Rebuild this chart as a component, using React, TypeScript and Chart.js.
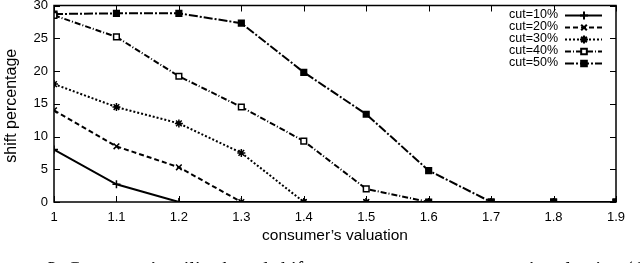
import React, { useEffect, useRef } from "react";
import { Chart, registerables } from "chart.js";
import { drawPoint } from "chart.js/helpers";

Chart.register(...registerables);

const valuations = [1.0, 1.1, 1.2, 1.3, 1.4, 1.5, 1.6, 1.7, 1.8, 1.9];
const xTickLabels = ["1", "1.1", "1.2", "1.3", "1.4", "1.5", "1.6", "1.7", "1.8", "1.9"];
const yTickValues = [0, 5, 10, 15, 20, 25, 30];
const seriesNames = ["cut=10%", "cut=20%", "cut=30%", "cut=40%", "cut=50%"];
const cut10 = [8, 2.7, 0, 0, 0, 0, 0, 0, 0, 0];
const cut20 = [14, 8.5, 5.3, 0, 0, 0, 0, 0, 0, 0];
const cut30 = [18, 14.5, 12, 7.5, 0, 0, 0, 0, 0, 0];
const cut40 = [28.5, 25.2, 19.2, 14.5, 9.3, 2, 0, 0, 0, 0];
const cut50 = [28.7, 28.8, 28.8, 27.3, 19.8, 13.4, 4.8, 0, 0, 0];
const xTitle = "consumer\u2019s valuation";
const yTitle = "shift percentage";
const caption = "3.   Consumer\u2019s utility-based shift percentage w.r.t. consumer\u2019s valuation (default";

const seriesValues = [cut10, cut20, cut30, cut40, cut50];
const styles = [
  { dash: [] as number[], point: "cross", fill: "#000", radius: 4 },
  { dash: [5, 3], point: "crossRot", fill: "#000", radius: 4 },
  { dash: [2, 2], point: "star", fill: "#000", radius: 4 },
  { dash: [6, 2, 1, 2], point: "rect", fill: "#fff", radius: 4 },
  { dash: [9, 2, 2, 2], point: "rect", fill: "#000", radius: 4 },
];

const FONT = "Liberation Sans, Arial, Helvetica, sans-serif";

const framePlugin = {
  id: "gnuplotFrame",
  afterDraw(chart: any) {
    const ctx = chart.ctx;
    const { left, right, top, bottom } = chart.chartArea;
    const xs = chart.scales.x;
    const ys = chart.scales.y;
    ctx.save();
    ctx.setLineDash([]);
    ctx.strokeStyle = "#000";
    ctx.lineWidth = 1.5;
    ctx.strokeRect(left, top, right - left, bottom - top);
    ctx.lineWidth = 1;
    const tl = 6;
    ctx.beginPath();
    valuations.forEach((v) => {
      const px = Math.round(xs.getPixelForValue(v)) + 0.5;
      ctx.moveTo(px, bottom);
      ctx.lineTo(px, bottom - tl);
      ctx.moveTo(px, top);
      ctx.lineTo(px, top + tl);
    });
    yTickValues.forEach((v) => {
      const py = Math.round(ys.getPixelForValue(v)) + 0.5;
      ctx.moveTo(left, py);
      ctx.lineTo(left + tl, py);
      ctx.moveTo(right, py);
      ctx.lineTo(right - tl, py);
    });
    ctx.stroke();

    ctx.fillStyle = "#000";
    ctx.font = `13px ${FONT}`;
    ctx.textBaseline = "middle";
    ctx.textAlign = "center";
    valuations.forEach((v, i) => {
      ctx.fillText(xTickLabels[i], xs.getPixelForValue(v), bottom + 15);
    });
    ctx.textAlign = "right";
    yTickValues.forEach((v) => {
      ctx.fillText(String(v), left - 6, ys.getPixelForValue(v));
    });

    ctx.font = `15.5px ${FONT}`;
    ctx.textAlign = "center";
    ctx.fillText(xTitle, (left + right) / 2, bottom + 34);
    ctx.save();
    ctx.translate(12, (top + bottom) / 2 + 2);
    ctx.rotate(-Math.PI / 2);
    ctx.font = `16px ${FONT}`;
    ctx.fillText(yTitle, 0, 0);
    ctx.restore();

    // legend
    ctx.font = `12.5px ${FONT}`;
    ctx.textAlign = "right";
    seriesNames.forEach((name, i) => {
      const y = 15 + i * 12;
      const st = styles[i];
      ctx.fillStyle = "#000";
      ctx.fillText(name, 558, y);
      ctx.save();
      ctx.lineWidth = 2;
      ctx.setLineDash(st.dash);
      ctx.beginPath();
      ctx.moveTo(565, y + 0.5);
      ctx.lineTo(602, y + 0.5);
      ctx.stroke();
      ctx.setLineDash([]);
      ctx.fillStyle = st.fill;
      ctx.strokeStyle = "#000";
      drawPoint(ctx, { pointStyle: st.point, radius: st.radius, rotation: 0, borderWidth: 1.5 } as any, 584, y + 0.5);
      ctx.restore();
    });
    ctx.restore();
  },
};

export default function App() {
  const ref = useRef<HTMLCanvasElement>(null);
  useEffect(() => {
    if (!ref.current) return;
    const chart = new Chart(ref.current, {
      type: "line",
      data: {
        datasets: seriesValues.map((vals, i) => ({
          label: seriesNames[i],
          data: vals.map((y, j) => ({ x: valuations[j], y })),
          borderColor: "#000",
          backgroundColor: styles[i].fill,
          borderWidth: 2,
          borderDash: styles[i].dash,
          pointStyle: styles[i].point as any,
          pointRadius: styles[i].radius,
          pointBorderWidth: 1.5,
          pointBorderColor: "#000",
          pointBackgroundColor: styles[i].fill,
          fill: false,
          tension: 0,
        })),
      },
      options: {
        animation: false,
        responsive: false,
        events: [],
        layout: { padding: { left: 54, right: 24, top: 2, bottom: 61 } },
        plugins: { legend: { display: false }, tooltip: { enabled: false } },
        scales: {
          x: { type: "linear", min: 1, max: 1.9, display: false },
          y: { type: "linear", min: 0, max: 30, display: false },
        },
      },
      plugins: [framePlugin],
    });
    return () => chart.destroy();
  }, []);
  return (
    <div style={{ position: "absolute", left: 0, top: 0, width: 640, height: 263, overflow: "hidden", background: "#fff" }}>
      <canvas ref={ref} width={640} height={263} style={{ display: "block" }} />
      <div
        style={{
          position: "absolute",
          left: 47,
          top: 259,
          whiteSpace: "nowrap",
          fontFamily: "Liberation Serif, serif",
          fontSize: 20,
          lineHeight: "20px",
          color: "#000",
        }}
      >
        {caption}
      </div>
    </div>
  );
}
